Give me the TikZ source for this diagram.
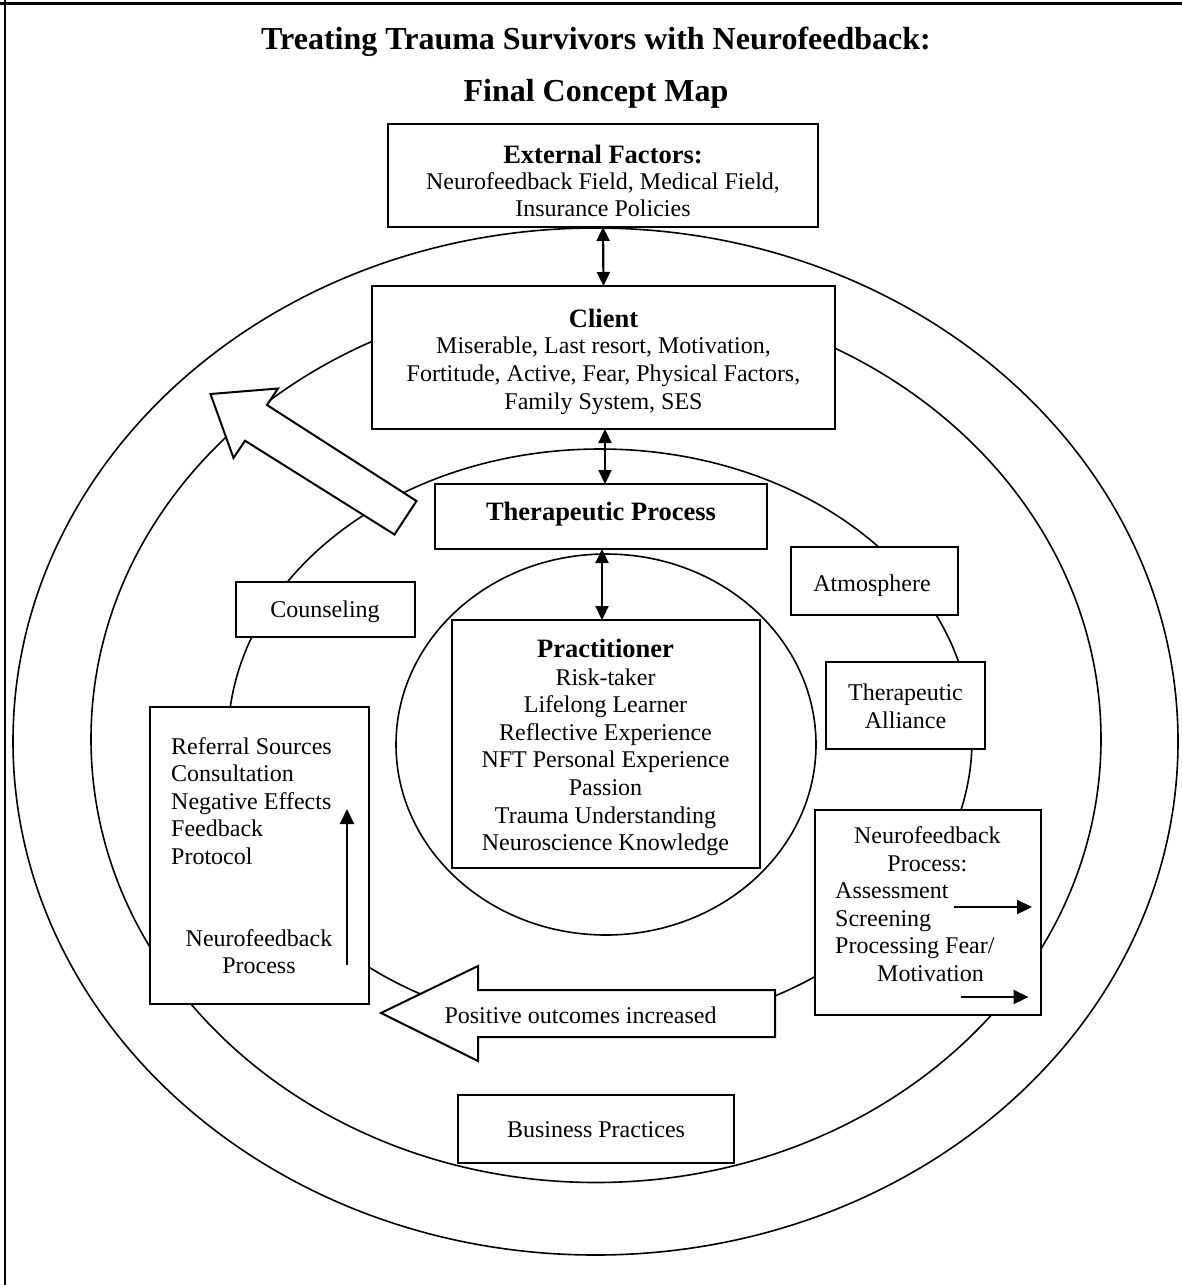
\documentclass[tikz,border=0pt]{standalone}
\usepackage{fontspec}
\setmainfont{Liberation Serif}
\usetikzlibrary{arrows.meta}
\begin{document}
\begin{tikzpicture}[x=1pt,y=-1pt,
  ring/.style={line width=1.6pt},
  box/.style={draw, line width=2pt, fill=white, inner sep=0pt, outer sep=0pt},
  txt/.style={inner sep=0pt, anchor=base, font=\fontsize{24}{27.6}\selectfont},
  ltxt/.style={inner sep=0pt, anchor=base west, font=\fontsize{24}{27.6}\selectfont},
  hd/.style={inner sep=0pt, anchor=base, font=\fontsize{26.5}{30}\selectfont\bfseries},
  ttl/.style={inner sep=0pt, anchor=base, font=\fontsize{32}{36}\selectfont\bfseries},
  dbl/.style={{Triangle[length=14pt,width=13pt]}-{Triangle[length=14pt,width=13pt]}, line width=2.2pt},
  sgl/.style={-{Triangle[length=15pt,width=14pt]}, line width=2.2pt},
  hollow/.style={draw, line width=2pt, fill=white, line join=miter}]
\useasboundingbox (0,0) rectangle (1182,1285);
% frame
\draw[line width=3pt] (0,3) -- (1182,3);
\draw[line width=1.5pt] (5,0) -- (5,1285);
% title
\node[ttl] (title1) at (596,49.5) {Treating Trauma Survivors with Neurofeedback:};
\node[ttl] (title2) at (596,101.5) {Final Concept Map};
% rings
\draw[ring] (595.5,741.5) ellipse [x radius=582.5pt, y radius=513.5pt];
\draw[ring] (596,739) ellipse [x radius=505pt, y radius=443.5pt];
\draw[ring] (600,739.5) ellipse [x radius=372pt, y radius=290.5pt];
\draw[ring] (606,744.5) ellipse [x radius=210pt, y radius=190.5pt];
% hollow arrows
\draw[hollow] (210.5,394) -- (278,388.5) -- (267,405) -- (416.5,501) -- (394.5,534.5) -- (245,440.7) -- (233.5,458) -- cycle;
\draw[hollow] (381,1013) -- (478,966) -- (478,990) -- (775,990) -- (775,1037) -- (478,1037) -- (478,1061) -- cycle;
\node[txt] (pos) at (580.5,1023) {Positive outcomes increased};
% boxes
\node[box, minimum width=430pt, minimum height=103pt] (ef) at (603,175.5) {};
\node[box, minimum width=463pt, minimum height=143pt] (client) at (603.5,357.5) {};
\node[box, minimum width=332pt, minimum height=65pt] (tp) at (601,516.5) {};
\node[box, minimum width=178.5pt, minimum height=55pt] (counsel) at (325.25,609.5) {};
\node[box, minimum width=308pt, minimum height=248pt] (prac) at (606,744) {};
\node[box, minimum width=219pt, minimum height=297pt] (leftbox) at (259.5,855.5) {};
\node[box, minimum width=167pt, minimum height=68pt] (atmos) at (874.5,581) {};
\node[box, minimum width=159pt, minimum height=87pt] (alliance) at (905.5,705.5) {};
\node[box, minimum width=226pt, minimum height=205pt] (nfbox) at (928,912.5) {};
\node[box, minimum width=276pt, minimum height=68pt] (business) at (596,1129) {};
% texts
\node[hd] (efh) at (603,163.7) {External Factors:};
\node[txt] (ef1) at (603,189.7) {Neurofeedback Field, Medical Field,};
\node[txt] (ef2) at (603,216) {Insurance Policies};
\node[hd] (clh) at (603.5,327) {Client};
\node[txt] (cl1) at (603.5,353.7) {Miserable, Last resort, Motivation,};
\node[txt] (cl2) at (603.5,381.6) {Fortitude, Active, Fear, Physical Factors,};
\node[txt] (cl3) at (603.5,409) {Family System, SES};
\node[hd] (tph) at (601,520) {Therapeutic Process};
\node[txt] (cou) at (325,617) {Counseling};
\node[txt] (atm) at (872,591) {Atmosphere};
\node[txt] (al1) at (905.5,700.8) {Therapeutic};
\node[txt] (al2) at (905.5,728.4) {Alliance};
\node[txt] (bp) at (596,1137) {Business Practices};
\node[hd] (prh) at (605.5,657) {Practitioner};
\node[txt] (pr1) at (605.5,685) {Risk-taker};
\node[txt] (pr2) at (605.5,712.6) {Lifelong Learner};
\node[txt] (pr3) at (605.5,740.2) {Reflective Experience};
\node[txt] (pr4) at (605.5,767.8) {NFT Personal Experience};
\node[txt] (pr5) at (605.5,795.4) {Passion};
\node[txt] (pr6) at (605.5,823) {Trauma Understanding};
\node[txt] (pr7) at (605.5,850.6) {Neuroscience Knowledge};
\node[ltxt] (lb1) at (171,754) {Referral Sources};
\node[ltxt] (lb2) at (171,781.6) {Consultation};
\node[ltxt] (lb3) at (171,809.2) {Negative Effects};
\node[ltxt] (lb4) at (171,836.8) {Feedback};
\node[ltxt] (lb5) at (171,864.4) {Protocol};
\node[txt] (lb6) at (259,946) {Neurofeedback};
\node[txt] (lb7) at (259,973.6) {Process};
\node[txt] (nf1) at (927.4,843.4) {Neurofeedback};
\node[txt] (nf2) at (927.4,871) {Process:};
\node[ltxt] (nf3) at (835,898.5) {Assessment};
\node[ltxt] (nf4) at (835,926.2) {Screening};
\node[ltxt] (nf5) at (835,953.8) {Processing Fear/};
\node[ltxt] (nf6) at (877,981) {Motivation};
% connectors
\draw[dbl] (ef.south) -- (client.north);
\draw[dbl] ([xshift=1.5pt]client.south) -- ([xshift=1.5pt]client.south |- tp.north);
\draw[dbl] ([xshift=1pt]tp.south) -- ([xshift=1pt]tp.south |- prac.north);
\coordinate (la0) at (347,965);
\coordinate (la1) at (347,809);
\draw[sgl] (la0) -- (la1);
\coordinate (ra0) at (954,907);
\coordinate (ra1) at (1032,907);
\draw[sgl] (ra0) -- (ra1);
\coordinate (rb0) at (961,997);
\coordinate (rb1) at (1028.5,997);
\draw[sgl] (rb0) -- (rb1);
\end{tikzpicture}
\end{document}
